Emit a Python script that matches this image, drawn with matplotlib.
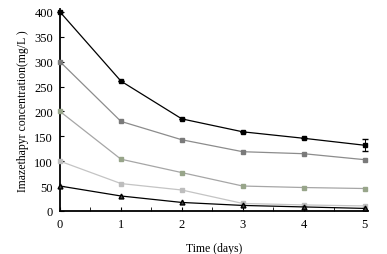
import matplotlib
matplotlib.use('Agg')
import matplotlib.pyplot as plt
from matplotlib.ticker import MultipleLocator

plt.rcParams['font.family'] = ['Liberation Serif', 'DejaVu Serif']

# data
days = [0, 1, 2, 3, 4, 5]
c400 = [400, 261, 185, 159, 146, 132]
c300 = [300, 180, 143, 119, 115, 103]
c200 = [200, 104, 77, 50, 47, 45]
c100 = [100, 55, 42, 15, 12, 10]
c50 = [50, 30, 17, 11, 8, 5]
err400 = [0, 0, 0, 0, 0, 12]

fig = plt.figure(figsize=(3.87, 2.55), dpi=100)
ax = fig.add_axes([0.155, 0.169, 0.795, 0.79])

eb = ax.errorbar(days, c400, yerr=err400, color='black', marker='s', markersize=3.5,
                 linewidth=0.9, capsize=2, elinewidth=0.7, zorder=3)
for artist in eb.lines[0:1] + tuple(eb.lines[1]) + tuple(eb.lines[2]):
    artist.set_clip_on(False)
ax.plot(days, c300, color='#8c8c8c', marker='s', markersize=3.5,
        markerfacecolor='#7a7a7a', markeredgecolor='#7a7a7a', linewidth=0.9,
        clip_on=False, zorder=3)
ax.plot(days, c200, color='#a6a6a6', marker='s', markersize=3.5,
        markerfacecolor='#98a58a', markeredgecolor='#98a58a', linewidth=0.9,
        clip_on=False, zorder=3)
ax.plot(days, c100, color='#c4c4c4', marker='s', markersize=3.2,
        markerfacecolor='#bdbdbd', markeredgecolor='#bdbdbd', linewidth=0.9,
        clip_on=False, zorder=3)
ax.plot(days, c50, color='black', marker='^', markersize=3.5,
        markerfacecolor='#444444', linewidth=0.9, clip_on=False, zorder=3)

ax.set_xlim(0, 5.05)
ax.set_ylim(0, 405)
ax.xaxis.set_major_locator(MultipleLocator(1))
ax.xaxis.set_minor_locator(MultipleLocator(0.5))
ax.yaxis.set_major_locator(MultipleLocator(50))

for side in ['top', 'right']:
    ax.spines[side].set_visible(False)
for side in ['left', 'bottom']:
    ax.spines[side].set_linewidth(1.3)

ax.tick_params(axis='both', which='both', direction='in', labelsize=9)
ax.tick_params(axis='both', which='major', length=3, pad=5)
ax.tick_params(axis='x', which='minor', length=3)

ax.set_xlabel('Time (days)', fontsize=8.5, labelpad=9)
ax.set_ylabel('Imazethapyr concentration(mg/L )', fontsize=8.5, labelpad=4)

fig.savefig('out.png', dpi=100)
